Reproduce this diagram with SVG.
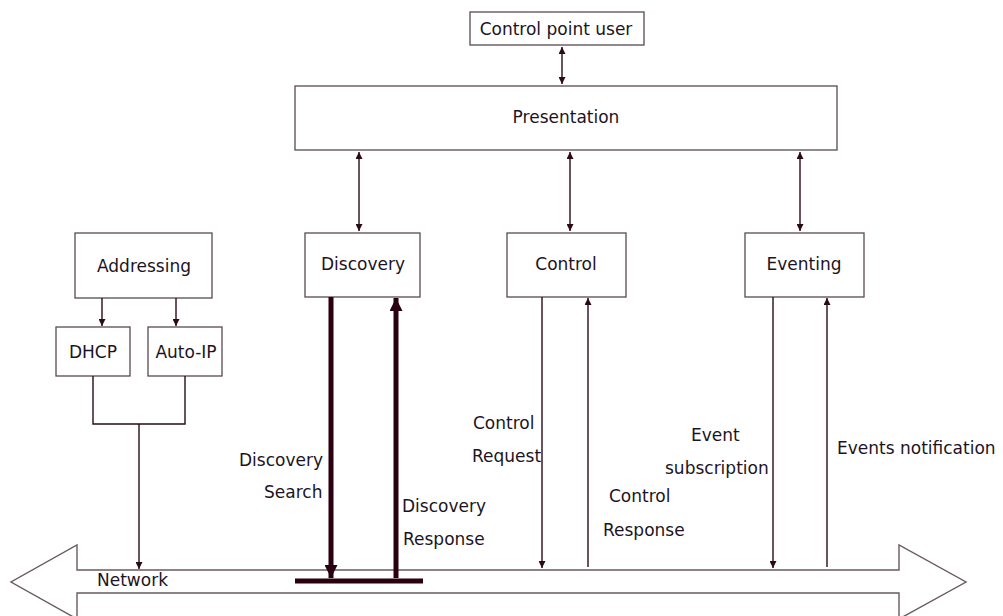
<svg xmlns="http://www.w3.org/2000/svg" width="1003" height="616" viewBox="0 0 1003 616">
  <style>
    .box { fill: #ffffff; stroke: #5a4a50; stroke-width: 1.3; }
    .lbl { font-family: "DejaVu Sans", "Liberation Sans", sans-serif; font-size: 17px; fill: #1c1424; }
    .mid { text-anchor: middle; }
    .wire { fill: none; stroke: #2a0a18; stroke-width: 1.4; }
    .heavy { fill: none; stroke: #2a0010; stroke-width: 5; }
    .net { fill: #ffffff; stroke: #6a5a60; stroke-width: 1.4; }
  </style>
  <defs>
    <marker id="ah" viewBox="0 0 10 10" refX="10" refY="5" markerWidth="7" markerHeight="7" markerUnits="userSpaceOnUse" orient="auto-start-reverse">
      <path d="M0,0 L10,5 L0,10 z" fill="#2a0a18"/>
    </marker>
    <marker id="ahBig" viewBox="0 0 10 10" refX="10" refY="5" markerWidth="13" markerHeight="13" markerUnits="userSpaceOnUse" orient="auto-start-reverse">
      <path d="M0,0 L10,5 L0,10 z" fill="#2a0010"/>
    </marker>
  </defs>

  <!-- Network bus: wide double-headed arrow -->
  <g id="network">
    <path class="net" d="M77,570 L899,570 L899,545 L966,582 L899,619 L899,593 L77,593 L77,619 L11,582 L77,545 Z"/>
    <text class="lbl" x="97" y="586">Network</text>
  </g>

  <g id="control-point-user">
    <rect class="box" x="470" y="12" width="174" height="33"/>
    <text class="lbl mid" x="556" y="35">Control point user</text>
  </g>

  <g id="presentation">
    <rect class="box" x="295" y="86" width="542" height="64"/>
    <text class="lbl mid" x="566" y="123">Presentation</text>
  </g>

  <g id="addressing">
    <rect class="box" x="75" y="233" width="137" height="65"/>
    <text class="lbl mid" x="144" y="272">Addressing</text>
  </g>

  <g id="dhcp">
    <rect class="box" x="56" y="327" width="74" height="49"/>
    <text class="lbl mid" x="93" y="358">DHCP</text>
  </g>

  <g id="auto-ip">
    <rect class="box" x="148" y="327" width="74" height="49"/>
    <text class="lbl mid" x="186" y="358">Auto-IP</text>
  </g>

  <g id="discovery">
    <rect class="box" x="305" y="233" width="115" height="64"/>
    <text class="lbl mid" x="363" y="270">Discovery</text>
  </g>

  <g id="control">
    <rect class="box" x="507" y="233" width="119" height="64"/>
    <text class="lbl mid" x="566" y="270">Control</text>
  </g>

  <g id="eventing">
    <rect class="box" x="745" y="233" width="119" height="64"/>
    <text class="lbl mid" x="804" y="270">Eventing</text>
  </g>

  <g id="connectors">
    <!-- user / presentation -->
    <line class="wire" x1="562" y1="47" x2="562" y2="84" marker-start="url(#ah)" marker-end="url(#ah)"/>
    <!-- presentation / services -->
    <line class="wire" x1="359" y1="152" x2="359" y2="231" marker-start="url(#ah)" marker-end="url(#ah)"/>
    <line class="wire" x1="570" y1="152" x2="570" y2="231" marker-start="url(#ah)" marker-end="url(#ah)"/>
    <line class="wire" x1="800" y1="152" x2="800" y2="231" marker-start="url(#ah)" marker-end="url(#ah)"/>
    <!-- addressing split -->
    <line class="wire" x1="102" y1="298" x2="102" y2="326" marker-end="url(#ah)"/>
    <line class="wire" x1="176" y1="298" x2="176" y2="326" marker-end="url(#ah)"/>
    <!-- DHCP / Auto-IP join down to network -->
    <path class="wire" d="M93,376 L93,424 L185,424 L185,376"/>
    <line class="wire" x1="139" y1="424" x2="139" y2="569" marker-end="url(#ah)"/>
    <!-- discovery exchange (heavy) -->
    <line class="heavy" x1="331" y1="297" x2="331" y2="578" marker-end="url(#ahBig)"/>
    <line class="heavy" x1="396" y1="578" x2="396" y2="298" marker-end="url(#ahBig)"/>
    <line class="heavy" x1="295" y1="581" x2="423" y2="581" stroke-width="6"/>
    <!-- control exchange -->
    <line class="wire" x1="542" y1="297" x2="542" y2="568" marker-end="url(#ah)"/>
    <line class="wire" x1="588" y1="567" x2="588" y2="298" marker-end="url(#ah)"/>
    <!-- eventing exchange -->
    <line class="wire" x1="773" y1="297" x2="773" y2="568" marker-end="url(#ah)"/>
    <line class="wire" x1="827" y1="567" x2="827" y2="298" marker-end="url(#ah)"/>
  </g>

  <g id="labels">
    <text class="lbl" x="239" y="466">Discovery</text>
    <text class="lbl" x="264" y="498">Search</text>
    <text class="lbl" x="402" y="512">Discovery</text>
    <text class="lbl" x="403" y="545">Response</text>
    <text class="lbl" x="473" y="429">Control</text>
    <text class="lbl" x="472" y="462">Request</text>
    <text class="lbl" x="609" y="502">Control</text>
    <text class="lbl" x="603" y="536">Response</text>
    <text class="lbl" x="691" y="441">Event</text>
    <text class="lbl" x="665" y="474">subscription</text>
    <text class="lbl" x="837" y="454">Events notification</text>
  </g>
</svg>
